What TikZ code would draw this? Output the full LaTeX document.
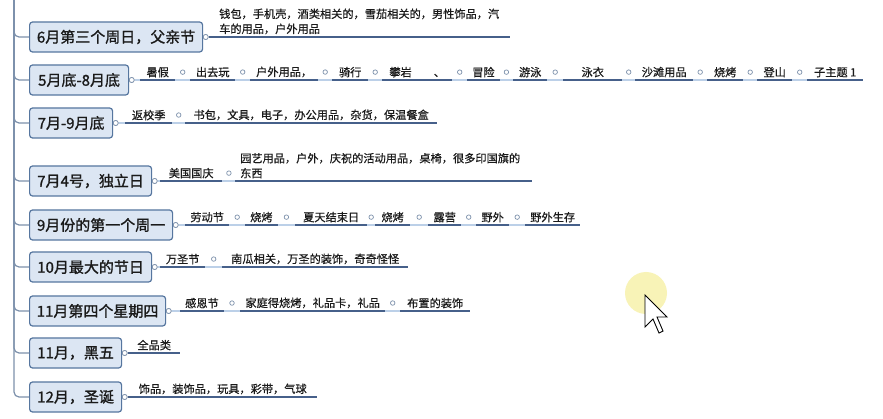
\documentclass[tikz,border=0pt]{standalone}
\usepackage{fontspec}
\newfontfamily\cjk[FakeBold=0.5]{Noto Sans CJK SC}
\newfontfamily\cjkb[FakeBold=1.2]{Noto Sans CJK SC}
\usetikzlibrary{calc}
\definecolor{boxfill}{HTML}{DCE6F3}
\definecolor{boxline}{HTML}{56769F}
\definecolor{uline}{HTML}{46608A}
\definecolor{lline}{HTML}{BCD0E8}
\definecolor{trunkc}{HTML}{7D91AC}
\definecolor{txt}{HTML}{1A1A1A}
\definecolor{glow}{HTML}{F7F0A6}
\tikzset{
 topic/.style={draw=boxline, line width=1.2pt, fill=boxfill, rounded corners=3pt, minimum height=30pt, inner xsep=7pt, inner ysep=0pt, anchor=west, text=txt, font=\cjkb\fontsize{15}{15}\selectfont},
 sub/.style={anchor=south west, inner xsep=5pt, inner ysep=0pt, text=txt, font=\cjk\fontsize{11.2}{15}\selectfont},
 knob/.style={circle, draw=trunkc, fill=white, line width=0.7pt, inner sep=0pt, minimum size=5pt},
 sdot/.style={knob, minimum size=4.5pt},
 ul/.style={draw=uline, line width=1.8pt},
 ll/.style={draw=lline, line width=1.8pt},
 branch/.style={draw=trunkc, line width=1.2pt, rounded corners=5pt},
}
\begin{document}
\begin{tikzpicture}[x=1pt,y=-1pt]
\useasboundingbox (0,0) rectangle (883,419);
\fill[white] (0,0) rectangle (883,419);

% main topics
\node[topic, minimum width=173pt] (b1) at (29,37) {6月第三个周日，父亲节};
\node[topic, minimum width=99pt]  (b2) at (29,80) {5月底-8月底};
\node[topic, minimum width=83pt]  (b3) at (29,123) {7月-9月底};
\node[topic, minimum width=122pt] (b4) at (29,181) {7月4号，独立日};
\node[topic, minimum width=143pt] (b5) at (29,225) {9月份的第一个周一};
\node[topic, minimum width=122pt] (b6) at (29,267) {10月最大的节日};
\node[topic, minimum width=136pt] (b7) at (29,311) {11月第四个星期四};
\node[topic, minimum width=92pt]  (b8) at (29,353) {11月，黑五};
\node[topic, minimum width=92pt]  (b9) at (29,397) {12月，圣诞};

% trunk and branches
\coordinate (top) at (14,0);
\foreach \b in {b1,b2,b3,b4,b5,b6,b7,b8,b9}{
  \draw[branch] (top) |- (\b.west);
}

% knobs
\foreach \i in {1,...,9}{
  \node[knob] (k\i) at ([xshift=2.5pt]b\i.east) {};
}

% ---- row 1
\node[sub, text width=286pt, align=left] (c1a) at (214,34.5) {钱包，手机壳，酒类相关的，雪茄相关的，男性饰品，汽\\车的用品，户外用品};
\draw[ul] (k1.east) -- (c1a.east |- k1);

% ---- row 2
\node[sub, minimum width=35pt] (c2a) at (140,77.5) {暑假};
\node[sub, minimum width=45pt] (c2b) at (190,77.5) {出去玩};
\node[sub, minimum width=68pt] (c2c) at (250,77.5) {户外用品，};
\node[sub, minimum width=36pt] (c2d) at (332,77.5) {骑行};
\node[sub, minimum width=70pt] (c2e) at (382,77.5) {攀岩\hspace{22pt}、};
\node[sub, minimum width=31pt] (c2f) at (467,77.5) {冒险};
\node[sub, minimum width=34pt] (c2g) at (513,77.5) {游泳};
\node[sub, minimum width=59pt] (c2h) at (563,77.5) {泳衣\hspace{24pt}};
\node[sub, minimum width=58pt] (c2i) at (635,77.5) {沙滩用品};
\node[sub, minimum width=36pt] (c2j) at (707,77.5) {烧烤};
\node[sub, minimum width=35pt] (c2k) at (757,77.5) {登山};
\node[sub, minimum width=56pt] (c2l) at (807,77.5) {子主题 1};
\draw[ll] (k2.east) -- (c2l.east |- k2);
\foreach \c in {a,b,c,d,e,f,g,h,i,j,k,l}{
  \draw[ul] (c2\c.west |- k2) -- (c2\c.east |- k2);
}
\foreach \p/\q in {a/b,b/c,c/d,d/e,e/f,f/g,g/h,h/i,i/j,j/k,k/l}{
  \node[sdot] (d2\p) at ($(c2\p.east)!.5!(c2\q.west)$) {};
}

% ---- row 3
\node[sub, minimum width=47pt] (c3a) at (125,120.5) {返校季};
\node[sub, minimum width=252pt] (c3b) at (185,120.5) {书包，文具，电子，办公用品，杂货，保温餐盒};
\draw[ll] (k3.east) -- (c3b.east |- k3);
\foreach \c in {a,b}{
  \draw[ul] (c3\c.west |- k3) -- (c3\c.east |- k3);
}
\node[sdot] (d3a) at ($(c3a.east)!.5!(c3b.west)$) {};

% ---- row 4
\node[sub, minimum width=62pt] (c4a) at (160,178.5) {美国国庆};
\node[sub, text width=287pt, align=left] (c4b) at (235,178.5) {园艺用品，户外，庆祝的活动用品，桌椅，很多印国旗的\\东西};
\draw[ll] (k4.east) -- (c4b.east |- k4);
\foreach \c in {a,b}{
  \draw[ul] (c4\c.west |- k4) -- (c4\c.east |- k4);
}
\node[sdot] (d4a) at ($(c4a.east)+(6.5,0)$) {};

% ---- row 5
\node[sub, minimum width=44pt] (c5a) at (185,222.5) {劳动节};
\node[sub, minimum width=32pt] (c5b) at (245,222.5) {烧烤};
\node[sub, minimum width=72pt] (c5c) at (295,222.5) {夏天结束日};
\node[sub, minimum width=35pt] (c5d) at (375,222.5) {烧烤};
\node[sub, minimum width=33pt] (c5e) at (428,222.5) {露营};
\node[sub, minimum width=33pt] (c5f) at (476,222.5) {野外};
\node[sub, minimum width=55pt] (c5g) at (525,222.5) {野外生存};
\draw[ll] (k5.east) -- (c5g.east |- k5);
\foreach \c in {a,b,c,d,e,f,g}{
  \draw[ul] (c5\c.west |- k5) -- (c5\c.east |- k5);
}
\foreach \p/\q in {a/b,b/c,c/d,d/e,e/f,f/g}{
  \node[sdot] (d5\p) at ($(c5\p.east)!.5!(c5\q.west)$) {};
}

% ---- row 6
\node[sub, minimum width=45pt] (c6a) at (160,264.5) {万圣节};
\node[sub, minimum width=186pt] (c6b) at (222,264.5) {南瓜相关，万圣的装饰，奇奇怪怪};
\draw[ll] (k6.east) -- (c6b.east |- k6);
\foreach \c in {a,b}{
  \draw[ul] (c6\c.west |- k6) -- (c6\c.east |- k6);
}
\node[sdot] (d6a) at ($(c6a.east)!.5!(c6b.west)$) {};

% ---- row 7
\node[sub, minimum width=42pt] (c7a) at (180,308.5) {感恩节};
\node[sub, minimum width=145pt] (c7b) at (240,308.5) {家庭得烧烤，礼品卡，礼品};
\node[sub, minimum width=70pt] (c7c) at (400,308.5) {布置的装饰};
\draw[ll] (k7.east) -- (c7c.east |- k7);
\foreach \c in {a,b,c}{
  \draw[ul] (c7\c.west |- k7) -- (c7\c.east |- k7);
}
\node[sdot] (d7a) at ($(c7a.east)!.5!(c7b.west)$) {};
\node[sdot] (d7b) at ($(c7b.east)!.5!(c7c.west)$) {};

% ---- row 8
\node[sub, minimum width=52pt] (c8a) at (128,350.5) {全品类};
\draw[ll] (k8.east) -- (c8a.west |- k8);
\draw[ul] (c8a.west |- k8) -- (c8a.east |- k8);

% ---- row 9
\node[sub, minimum width=189pt] (c9a) at (128,394.5) {饰品，装饰品，玩具，彩带，气球};
\draw[ll] (k9.east) -- (c9a.west |- k9);
\draw[ul] (c9a.west |- k9) -- (c9a.east |- k9);

% redraw knobs on top
\foreach \i in {1,...,9}{
  \node[knob] at (k\i) {};
}

% cursor highlight and pointer
\fill[glow, opacity=0.8] (646,293) circle (21pt);
\draw[black, line width=0.9pt, fill=white, line join=miter] (645,295) -- (645,327) -- (653,319) -- (659,333) -- (663,331) -- (657,317) -- (667,317) -- cycle;
\end{tikzpicture}
\end{document}
